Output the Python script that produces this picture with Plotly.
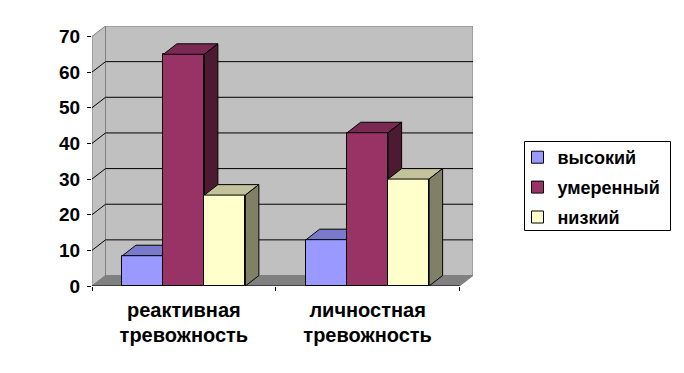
import plotly.graph_objects as go

categories_line1 = ["реактивная", "личностная"]
categories_line2 = ["тревожность", "тревожность"]
series_names = ["высокий", "умеренный", "низкий"]
high = [8.5, 13]
moderate = [65, 43]
low = [25.5, 30]
series_values = [high, moderate, low]
front_colors = ["#9999FF", "#993366", "#FFFFCC"]
top_colors = ["#7A7ACC", "#7A2952", "#C2C29B"]
side_colors = ["#4D4D80", "#4D1A33", "#808066"]
y_ticks = [0, 10, 20, 30, 40, 50, 60, 70]

# pseudo-3D projection expressed in data units
DX = 0.0735
DY = 2.94
BAR_W = 0.2231
X_MAX = 2
Y_MAX = 70
FONT = "Liberation Sans"

fig = go.Figure()


def poly(xs, ys, fill, line="black", xa="x", ya="y", width=1):
    fig.add_trace(go.Scatter(
        x=xs + xs[:1], y=ys + ys[:1], mode="lines", fill="toself", fillcolor=fill,
        line=dict(color=line, width=width), showlegend=False, hoverinfo="skip",
        xaxis=xa, yaxis=ya, cliponaxis=False))


# walls and floor
poly([0, DX, DX, 0], [0, DY, Y_MAX + DY, Y_MAX], "#C0C0C0", "#808080")
poly([DX, X_MAX + DX, X_MAX + DX, DX], [DY, DY, Y_MAX + DY, Y_MAX + DY], "#C0C0C0", "#808080")
poly([0, X_MAX, X_MAX + DX, DX], [0, 0, DY, DY], "#808080", "#808080")
# gridlines run across the side wall and the back wall
for v in y_ticks[1:-1]:
    fig.add_trace(go.Scatter(
        x=[0, DX, X_MAX + DX], y=[v, v + DY, v + DY], mode="lines",
        line=dict(color="black", width=1), showlegend=False, hoverinfo="skip"))
fig.add_trace(go.Scatter(x=[0, X_MAX], y=[0, 0], mode="lines",
                         line=dict(color="black", width=1), showlegend=False, hoverinfo="skip"))

# one overlaid subplot per series, so later series paint over earlier ones
for s, values in enumerate(series_values):
    xa, ya = f"x{s + 2}", f"y{s + 2}"
    centers = [i + 0.5 + (s - 1) * BAR_W for i in range(len(values))]
    fig.add_trace(go.Bar(
        x=centers, y=values, width=BAR_W, name=series_names[s], xaxis=xa, yaxis=ya,
        marker=dict(color=front_colors[s], line=dict(color="black", width=1)),
        cliponaxis=False, legendgroup=series_names[s]))
    for c, v in zip(centers, values):
        x0, x1 = c - BAR_W / 2, c + BAR_W / 2
        poly([x0, x1, x1 + DX, x0 + DX], [v, v, v + DY, v + DY], top_colors[s], xa=xa, ya=ya)
        poly([x1, x1 + DX, x1 + DX, x1], [0, DY, v + DY, v], side_colors[s], xa=xa, ya=ya)

xr = [0, X_MAX + DX]
yr = [0, Y_MAX + DY]
tick_font = dict(family=FONT, size=20, color="black", weight="bold")
layout = dict(
    width=684, height=373, autosize=False,
    margin=dict(l=92, r=211, t=26, b=87, pad=0, autoexpand=False),
    paper_bgcolor="white", plot_bgcolor="white", bargap=0,
    barmode="overlay",
    xaxis=dict(range=xr, showgrid=False, zeroline=False, showline=False,
               tickmode="array", tickvals=[0.5, 1.5], ticktext=categories_line1,
               ticks="", tickfont=tick_font, ticklabelstandoff=10,
               minor=dict(tickmode="array", tickvals=[0, 1, 2], ticks="outside",
                          ticklen=4, tickcolor="black", tickwidth=1, showgrid=False)),
    yaxis=dict(range=yr, showgrid=False, zeroline=False, showline=False,
               tickmode="array", tickvals=y_ticks, ticks="outside", ticklen=4,
               tickcolor="black", tickwidth=1, ticklabelstandoff=3,
               tickfont=dict(family=FONT, size=19, color="black", weight="bold")),
    legend=dict(xref="container", yref="container", x=517.5 / 684, y=1 - 139 / 373,
                xanchor="left", yanchor="top", bgcolor="rgba(0,0,0,0)",
                borderwidth=0, tracegroupgap=3.5, traceorder="grouped",
                font=dict(family=FONT, size=18, color="black", weight="bold")),
    showlegend=True,
    shapes=[dict(type="rect", xref="paper", yref="paper", layer="below",
                 x0=(524.5 - 92) / 381, x1=(670.5 - 92) / 381,
                 y0=(286 - 230.5) / 260, y1=(286 - 141.5) / 260,
                 line=dict(color="black", width=1), fillcolor="white")],
)
for s in range(3):
    layout[f"xaxis{s + 2}"] = dict(range=xr, overlaying="x", anchor=f"y{s + 2}", visible=False)
    layout[f"yaxis{s + 2}"] = dict(range=yr, overlaying="y", anchor=f"x{s + 2}", visible=False)
# second line of the category labels
layout["xaxis2"].update(visible=True, showgrid=False, zeroline=False, showline=False,
                        tickmode="array", tickvals=[0.5, 1.5], ticktext=categories_line2,
                        ticks="", tickfont=tick_font, ticklabelstandoff=35, side="bottom")
fig.update_layout(**layout)
fig.write_html("out.html", post_script="document.body.style.margin='0';",
               config=dict(displayModeBar=False))
